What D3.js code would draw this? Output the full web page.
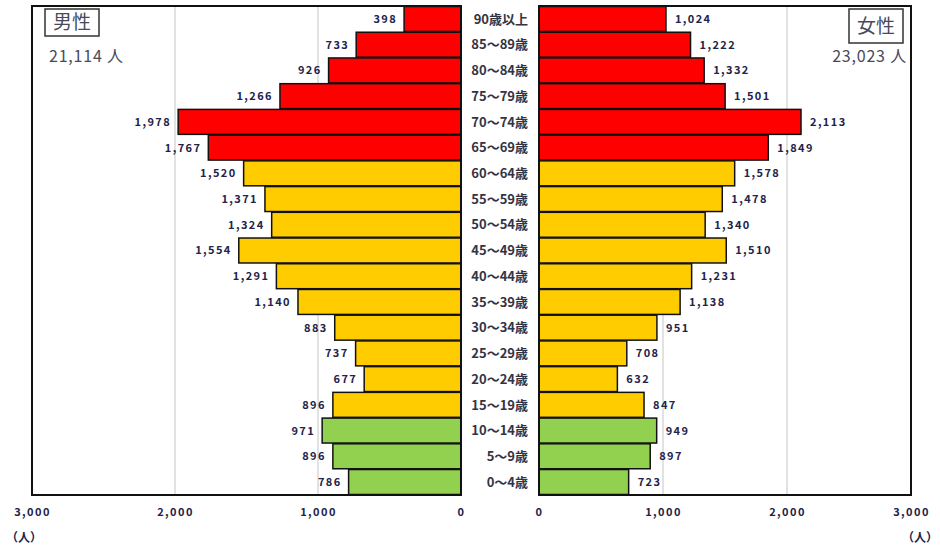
<!DOCTYPE html>
<html><head><meta charset="utf-8">
<script src="https://cdn.jsdelivr.net/npm/d3@7"></script>
<style>
html,body{margin:0;padding:0;background:#fff;}
svg{display:block;}
text{font-family:"Noto Sans CJK JP","Noto Sans",sans-serif;}
</style></head>
<body>
<svg id="c" width="940" height="547"></svg>
<script>
const ages = ["90歳以上","85～89歳","80～84歳","75～79歳","70～74歳","65～69歳","60～64歳","55～59歳","50～54歳","45～49歳","40～44歳","35～39歳","30～34歳","25～29歳","20～24歳","15～19歳","10～14歳","5～9歳","0～4歳"];
const male   = [398,733,926,1266,1978,1767,1520,1371,1324,1554,1291,1140,883,737,677,896,971,896,786];
const female = [1024,1222,1332,1501,2113,1849,1578,1478,1340,1510,1231,1138,951,708,632,847,949,897,723];
const groups = ["65+","65+","65+","65+","65+","65+","15-64","15-64","15-64","15-64","15-64","15-64","15-64","15-64","15-64","15-64","0-14","0-14","0-14"];
const groupColors = {"65+":"#ff0000","15-64":"#ffcc00","0-14":"#92d050"};
const ticks = [0,1000,2000,3000];
const titles = {male:"男性", female:"女性"};
const totals = {male:"21,114 人", female:"23,023 人"};
const unitLabel = "（人）";

const svg = d3.select("#c");
const fmt = d3.format(",");
const plotTop = 6, plotBottom = 495;
const y = d3.scaleBand().domain(ages).range([plotTop, plotBottom]).paddingInner(0.03).paddingOuter(0.02);
const xL = d3.scaleLinear().domain([0,3000]).range([461,32]);
const xR = d3.scaleLinear().domain([0,3000]).range([539,911]);
const labelColor = "#22224a";

function panel(x, data, side){
  const g = svg.append("g");
  const [r0,r1] = x.range();
  const xl = Math.min(r0,r1), xr = Math.max(r0,r1);
  g.selectAll(".grid").data(ticks.filter(t=>t>0 && t<3000)).join("line")
    .attr("x1",d=>x(d)).attr("x2",d=>x(d)).attr("y1",plotTop).attr("y2",plotBottom)
    .attr("stroke","#d9d9d9").attr("stroke-width",1.5);
  g.selectAll(".bar").data(data).join("rect")
    .attr("x",(d)=>Math.min(x(0),x(d)))
    .attr("width",d=>Math.abs(x(d)-x(0)))
    .attr("y",(d,i)=>y(ages[i]))
    .attr("height",y.bandwidth())
    .attr("fill",(d,i)=>groupColors[groups[i]])
    .attr("stroke","#111").attr("stroke-width",1.5);
  g.append("rect").attr("x",xl).attr("y",plotTop).attr("width",xr-xl).attr("height",plotBottom-plotTop)
    .attr("fill","none").attr("stroke","#111").attr("stroke-width",2);
  g.selectAll(".val").data(data).join("text")
    .attr("x",d=> side==="L" ? x(d)-7 : x(d)+9)
    .attr("y",(d,i)=>y(ages[i])+y.bandwidth()/2)
    .attr("dy","0.36em")
    .attr("text-anchor", side==="L" ? "end" : "start")
    .attr("font-size",11).attr("font-weight","bold")
    .attr("letter-spacing","1.4px")
    .attr("fill",labelColor)
    .text(d=>fmt(d));
  const ax = d3.axisBottom(x).tickValues(ticks).tickFormat(fmt).tickSize(0).tickPadding(0);
  const axg = svg.append("g").attr("transform",`translate(0,${plotBottom})`).call(ax);
  axg.select(".domain").remove();
  axg.selectAll("text").attr("y",17).attr("dy","0.36em")
    .attr("font-size",11).attr("font-weight","bold").attr("fill",labelColor)
    .attr("letter-spacing","1.4px")
    .attr("font-family",'"Noto Sans CJK JP",sans-serif');
}
panel(xL, male, "L");
panel(xR, female, "R");

svg.selectAll(".age").data(ages).join("text")
  .attr("x",528).attr("y",d=>y(d)+y.bandwidth()/2).attr("dy","0.36em")
  .attr("text-anchor","end").attr("font-size",13).attr("font-weight","bold")
  .attr("fill","#333344").text(d=>d);

function titleBox(x, w, h, label, total, anchor, tx){
  svg.append("rect").attr("x",x).attr("y",9).attr("width",w).attr("height",h)
    .attr("fill","#fff").attr("stroke","#333").attr("stroke-width",1.5);
  svg.append("text").attr("x",x+w/2).attr("y",9+h/2).attr("dy","0.36em")
    .attr("text-anchor","middle").attr("font-size",19).attr("fill","#4a4a5a").text(label);
  svg.append("text").attr("x",tx).attr("y",56).attr("dy","0.36em")
    .attr("text-anchor",anchor).attr("font-size",16).attr("letter-spacing","0.8px")
    .attr("fill","#4a4a5a").text(total);
}
titleBox(45, 54, 27, titles.male, totals.male, "start", 49);
titleBox(849, 54, 34, titles.female, totals.female, "end", 907);

svg.append("text").attr("x",6).attr("y",538).attr("dy","0.36em").attr("font-size",12)
  .attr("font-weight","bold").attr("fill",labelColor).text(unitLabel);
svg.append("text").attr("x",938).attr("y",538).attr("dy","0.36em").attr("text-anchor","end").attr("font-size",12)
  .attr("font-weight","bold").attr("fill",labelColor).text(unitLabel);
</script>
</body></html>
